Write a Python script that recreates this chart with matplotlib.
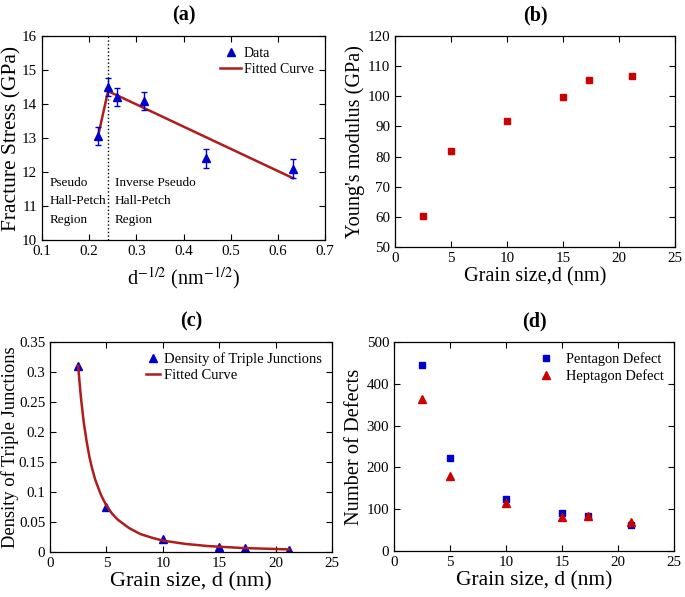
import matplotlib
matplotlib.use("Agg")
import matplotlib.pyplot as plt

plt.rcParams['font.family'] = ['Liberation Serif', 'DejaVu Serif']
plt.rcParams['mathtext.fontset'] = 'stix'

# (a) fracture stress vs d^-1/2
inv_sqrt_d = [0.2182, 0.2408, 0.2582, 0.3162, 0.4472, 0.6325]
stress = [13.05, 14.5, 14.2, 14.08, 12.4, 12.1]
stress_err = [0.27, 0.27, 0.27, 0.27, 0.27, 0.27]
fit_a_x = [0.218, 0.240, 0.632]
fit_a_y = [13.0, 14.38, 11.82]
boundary_x = 0.24

# (b) Young's modulus
grain = [2.5, 5, 10, 15, 17.3, 21.2]
modulus = [60.2, 82.0, 91.8, 99.8, 105.3, 106.7]

# (c) density of triple junctions
tj_density = [0.31, 0.075, 0.021, 0.009, 0.007, 0.004]
fit_c_x = [2.5, 2.6, 2.75, 2.9, 3, 3.25, 3.5, 3.75, 4, 4.5, 5, 5.5, 6, 7, 8, 9,
           10, 12, 14, 17, 21.2]
fit_c_y = [0.31, 0.287, 0.256, 0.231, 0.215, 0.184, 0.158, 0.138, 0.121,
           0.096, 0.077, 0.064, 0.054, 0.040, 0.030, 0.024, 0.019, 0.0135,
           0.0099, 0.0067, 0.0043]

# (d) defects
pentagon = [445, 222, 124, 90, 83, 62]
heptagon = [363, 180, 116, 82, 83, 70]

BLUE = '#0000cc'
RED = '#cc0000'
FIT = '#b01c1c'

fig = plt.figure(figsize=(6.85, 5.97), dpi=100)
W, H = 685, 597


def add_ax(l, t, r, b):
    return fig.add_axes([l / W, 1 - b / H, (r - l) / W, (b - t) / H])


def style(ax):
    ax.tick_params(direction='in', top=True, right=True, labelsize=10.8, length=4)
    for s in ax.spines.values():
        s.set_linewidth(0.9)


ax1 = add_ax(42, 36, 325, 240)
ax2 = add_ax(395, 36, 675, 247)
ax3 = add_ax(50, 342, 332, 552)
ax4 = add_ax(394, 342, 674, 551)

# (a)
ax1.errorbar(inv_sqrt_d, stress, yerr=stress_err, fmt='none', ecolor=BLUE,
             capsize=2.5, elinewidth=1, zorder=3)
data_h, = ax1.plot(inv_sqrt_d, stress, '^', color=BLUE, ms=6, zorder=4)
fit_h, = ax1.plot(fit_a_x, fit_a_y, color=FIT, lw=1.8, zorder=2)
ax1.axvline(boundary_x, color='black', ls=':', lw=1)
ax1.set_xlim(0.1, 0.7)
ax1.set_ylim(10, 16)
ax1.set_xticks([0.1, 0.2, 0.3, 0.4, 0.5, 0.6, 0.7])
ax1.set_xlabel(r'd$^{-1/2}$ (nm$^{-1/2}$)', fontsize=14.5, labelpad=5)
ax1.set_ylabel('Fracture Stress (GPa)', fontsize=15.5)
ax1.yaxis.set_label_coords(-0.072, 0.5)
ax1.text(0.116, 11.85, 'Pseudo\nHall-Petch\nRegion', fontsize=9.5, va='top', linespacing=1.7)
ax1.text(0.254, 11.85, 'Inverse Pseudo\nHall-Petch\nRegion', fontsize=9.5, va='top', linespacing=1.7)
ax1.legend([data_h, fit_h], ['Data', 'Fitted Curve'], loc='upper right', frameon=False,
           fontsize=10, handlelength=1.5, handletextpad=0.2, borderaxespad=0.4,
           labelspacing=0.2)
ax1.set_title('(a)', fontsize=14.5, fontweight='bold', pad=11)
style(ax1)

# (b)
ax2.plot(grain, modulus, 's', color=RED, ms=4.5)
ax2.set_xlim(0, 25)
ax2.set_ylim(50, 120)
ax2.set_xlabel('Grain size,d (nm)', fontsize=14.6, labelpad=2)
ax2.set_ylabel("Young's modulus (GPa)", fontsize=14.6)
ax2.yaxis.set_label_coords(-0.107, 0.5)
ax2.set_title('(b)', fontsize=14.5, fontweight='bold', pad=11)
style(ax2)

# (c)
ax3.plot(grain, tj_density, '^', color=BLUE, ms=5.5, label='Density of Triple Junctions', zorder=2)
ax3.plot(fit_c_x, fit_c_y, color=FIT, lw=1.8, label='Fitted Curve', zorder=3)
ax3.set_xlim(0, 25)
ax3.set_ylim(0, 0.35)
ax3.set_yticks([0, 0.05, 0.1, 0.15, 0.2, 0.25, 0.3, 0.35])
ax3.set_yticklabels(['0', '0.05', '0.1', '0.15', '0.2', '0.25', '0.3', '0.35'])
ax3.set_xlabel('Grain size, d (nm)', fontsize=16, labelpad=2)
ax3.set_ylabel('Density of Triple Junctions', fontsize=13.3)
ax3.yaxis.set_label_coords(-0.11, 0.5)
ax3.legend(loc='upper right', frameon=False, fontsize=10.5, handlelength=1.0,
           handletextpad=0.25, borderaxespad=0.3, labelspacing=0.2)
ax3.set_title('(c)', fontsize=14.5, fontweight='bold', pad=11)
style(ax3)

# (d)
ax4.plot(grain, pentagon, 's', color=BLUE, ms=4.5, label='Pentagon Defect')
ax4.plot(grain, heptagon, '^', color=RED, ms=5.5, label='Heptagon Defect')
ax4.set_xlim(0, 25)
ax4.set_ylim(0, 500)
ax4.set_xlabel('Grain size, d (nm)', fontsize=15.5, labelpad=2)
ax4.set_ylabel('Number of Defects', fontsize=14.7)
ax4.yaxis.set_label_coords(-0.107, 0.5)
ax4.legend(loc='upper right', frameon=False, fontsize=10.4, handlelength=1.2,
           borderaxespad=0.3, labelspacing=0.2)
ax4.set_title('(d)', fontsize=14.5, fontweight='bold', pad=11)
style(ax4)

fig.savefig('out.png', dpi=100)
